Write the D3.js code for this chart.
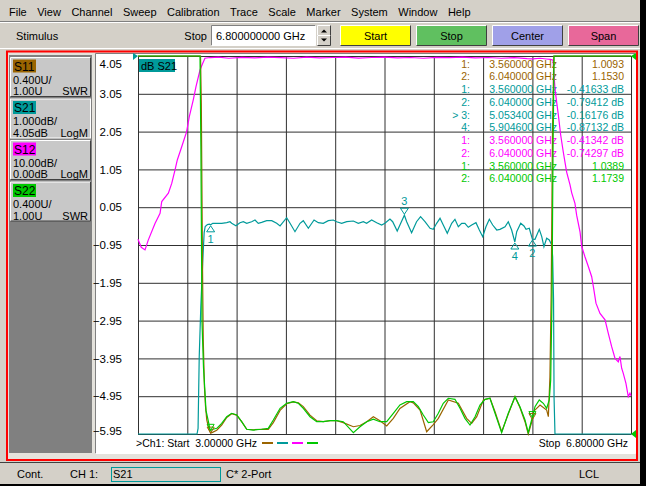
<!DOCTYPE html>
<html>
<head>
<meta charset="utf-8">
<script src="https://cdn.jsdelivr.net/npm/d3@7"></script>
<style>
  body { margin: 0; background: #d4d0c8; overflow: hidden; }
  svg { display: block; font-family: "Liberation Sans", Arial, sans-serif; font-size: 11px; }
</style>
</head>
<body>
<div id="chart"></div>
<script>
// ---- data ----
const menuItems = ["File", "View", "Channel", "Sweep", "Calibration", "Trace", "Scale", "Marker", "System", "Window", "Help"];
const toolButtons = ["Start", "Stop", "Center", "Span"];
const toolColors = ["#ffff00", "#60c060", "#a0a0e8", "#e8689a"];

const traceIds = ["S11", "S21", "S12", "S22"];
const traceColors = { S11: "#9a6400", S21: "#009a9a", S12: "#ff00ff", S22: "#00c800" };
const scaleText = ["0.400U/", "1.000dB/", "10.00dB/", "0.400U/"];
const refText = ["1.00U", "4.05dB", "0.00dB", "1.00U"];
const formatText = ["SWR", "LogM", "LogM", "SWR"];

const freqTicks = [3.0, 3.38, 3.76, 4.14, 4.52, 4.9, 5.28, 5.66, 6.04, 6.42, 6.8];
const s21Ticks = [4.05, 3.05, 2.05, 1.05, 0.05, -0.95, -1.95, -2.95, -3.95, -4.95, -5.95];

// readout table
const readTrace = ["S11", "S11", "S21", "S21", "S21", "S21", "S12", "S12", "S22", "S22"];
const readLabel = ["1:", "2:", "1:", "2:", "> 3:", "4:", "1:", "2:", "1:", "2:"];
const readFreq = ["3.560000 GHz", "6.040000 GHz", "3.560000 GHz", "6.040000 GHz", "5.053400 GHz",
  "5.904600 GHz", "3.560000 GHz", "6.040000 GHz", "3.560000 GHz", "6.040000 GHz"];
const readValue = ["1.0093", "1.1530", "-0.41633 dB", "-0.79412 dB", "-0.16176 dB", "-0.87132 dB",
  "-0.41342 dB", "-0.74297 dB", "1.0389", "1.1739"];

// markers
const s21MarkerNum = [1, 2, 3, 4];
const s21MarkerFreq = [3.56, 6.04, 5.0534, 5.9046];
const s21MarkerDb = [-0.41633, -0.79412, -0.16176, -0.87132];
const activeMarker = 3;
const swrMarkerFreq = [3.56, 6.04];
const s11MarkerSwr = [1.0093, 1.153];
const s22MarkerSwr = [1.0389, 1.1739];

// traces: [GHz, value]
const s21Trace = [[3.00, -60], [3.20, -58], [3.40, -45], [3.455, -20], [3.463, -5.8], [3.472, -3.9],
  [3.484, -2.6], [3.495, -1.7], [3.503, -1.1], [3.510, -0.62], [3.518, -0.46], [3.535, -0.41],
  [3.55, -0.40], [3.56, -0.416], [3.576, -0.376], [3.607, -0.376], [3.645, -0.376], [3.684, -0.36],
  [3.709, -0.334], [3.722, -0.376], [3.755, -0.439], [3.786, -0.36], [3.812, -0.334], [3.838, -0.376],
  [3.876, -0.334], [3.902, -0.289], [3.927, -0.376], [3.953, -0.35], [3.992, -0.307], [4.031, -0.307],
  [4.069, -0.376], [4.095, -0.447], [4.146, -0.228], [4.172, -0.376], [4.21, -0.598], [4.249, -0.376],
  [4.274, -0.307], [4.313, -0.508], [4.357, -0.289], [4.39, -0.36], [4.428, -0.376], [4.467, -0.307],
  [4.505, -0.289], [4.531, -0.334], [4.57, -0.376], [4.609, -0.334], [4.66, -0.315], [4.698, -0.376],
  [4.737, -0.334], [4.762, -0.376], [4.801, -0.289], [4.84, -0.36], [4.878, -0.421], [4.903, -0.376],
  [4.942, -0.262], [4.963, -0.334], [4.998, -0.58], [5.025, -0.376], [5.0534, -0.162], [5.071, -0.334],
  [5.109, -0.625], [5.147, -0.334], [5.178, -0.201], [5.212, -0.334], [5.251, -0.508], [5.276, -0.535],
  [5.302, -0.376], [5.328, -0.244], [5.353, -0.421], [5.384, -0.64], [5.418, -0.376], [5.443, -0.27],
  [5.469, -0.466], [5.495, -0.376], [5.52, -0.376], [5.546, -0.482], [5.572, -0.421], [5.605, -0.36],
  [5.631, -0.553], [5.657, -0.73], [5.682, -0.466], [5.708, -0.27], [5.734, -0.421], [5.765, -0.553],
  [5.79, -0.535], [5.829, -0.466], [5.854, -0.334], [5.88, -0.553], [5.9046, -0.871], [5.919, -0.598],
  [5.95, -0.376], [5.975, -0.447], [5.991, -0.535], [6.016, -0.508], [6.04, -0.794], [6.06, -0.799],
  [6.093, -0.535], [6.112, -0.73], [6.129, -0.995], [6.15, -0.772], [6.17, -0.817], [6.189, -0.95],
  [6.196, -1.26], [6.203, -2.4], [6.207, -5.0], [6.214, -15], [6.30, -40], [6.50, -55], [6.80, -60]];

const s12Trace = [[3.0, -48.5], [3.025, -50.6], [3.054, -51.3], [3.079, -48.7], [3.131, -44.3], [3.17, -41.6],
  [3.183, -38.5], [3.234, -36.3], [3.26, -33.7], [3.285, -30.2], [3.303, -27.5], [3.337, -24.0],
  [3.375, -20.0], [3.395, -16.1], [3.426, -11.6], [3.447, -8.1], [3.478, -3.7], [3.499, -1.9],
  [3.516, -0.6], [3.555, -0.4], [3.56, -0.413], [3.62, -0.3], [3.7, -0.6], [3.8, -0.35], [3.9, -0.5],
  [4.0, -0.3], [4.1, -0.45], [4.2, -0.6], [4.3, -0.3], [4.4, -0.5], [4.5, -0.4], [4.6, -0.3],
  [4.7, -0.55], [4.8, -0.4], [4.9, -0.3], [5.0, -0.5], [5.1, -0.4], [5.2, -0.6], [5.3, -0.35],
  [5.4, -0.45], [5.5, -0.3], [5.6, -0.5], [5.7, -0.4], [5.8, -0.6], [5.9, -0.45], [6.0, -0.7],
  [6.04, -0.743], [6.1, -0.6], [6.15, -0.8], [6.18, -0.9], [6.199, -1.1], [6.214, -8.7], [6.227, -12.2],
  [6.24, -15.6], [6.258, -20.9], [6.278, -25.4], [6.304, -30.7], [6.33, -34.1], [6.343, -36.2],
  [6.368, -39.0], [6.381, -42.1], [6.407, -46.5], [6.42, -50.4], [6.445, -53.1], [6.471, -55.7],
  [6.497, -58.4], [6.51, -61.0], [6.53, -65.4], [6.561, -68.1], [6.6, -69.8], [6.625, -73.4],
  [6.651, -76.9], [6.677, -80.0], [6.702, -80.9], [6.715, -79.5], [6.728, -82.6], [6.74, -83.9],
  [6.761, -86.6], [6.779, -90.1], [6.792, -89.2], [6.8, -89.9]];

const s11Trace = [[3.0, 40], [3.3, 35], [3.47, 20], [3.482, 6], [3.488, 4.5], [3.497, 2.8], [3.503, 2.0],
  [3.512, 1.5], [3.52, 1.3], [3.53, 1.15], [3.545, 1.06], [3.56, 1.0093], [3.578, 1.02], [3.607, 1.04],
  [3.645, 1.095], [3.684, 1.175], [3.722, 1.215], [3.761, 1.2], [3.799, 1.13], [3.838, 1.05],
  [3.888, 1.045], [3.953, 1.05], [4.004, 1.05], [4.043, 1.12], [4.095, 1.25], [4.146, 1.32],
  [4.197, 1.34], [4.236, 1.33], [4.274, 1.29], [4.326, 1.2], [4.377, 1.14], [4.428, 1.13], [4.48, 1.14],
  [4.532, 1.14], [4.582, 1.12], [4.66, 1.077], [4.711, 1.09], [4.763, 1.13], [4.814, 1.183],
  [4.865, 1.14], [4.917, 1.085], [4.968, 1.166], [5.019, 1.27], [5.096, 1.342], [5.122, 1.33],
  [5.174, 1.254], [5.225, 1.024], [5.276, 1.1], [5.315, 1.166], [5.392, 1.36], [5.469, 1.325],
  [5.533, 1.166], [5.572, 1.113], [5.611, 1.183], [5.662, 1.36], [5.713, 1.378], [5.752, 1.236],
  [5.803, 1.024], [5.854, 1.21], [5.906, 1.395], [5.944, 1.28], [5.983, 1.13], [6.008, 1.0],
  [6.04, 1.153], [6.047, 1.236], [6.099, 1.307], [6.15, 1.254], [6.163, 1.183], [6.175, 1.6],
  [6.185, 2.5], [6.195, 4.2], [6.205, 8], [6.3, 30], [6.8, 40]];

const s22Trace = [[3.0, 40], [3.3, 35], [3.47, 20], [3.478, 5.5], [3.485, 4.0], [3.493, 2.2], [3.505, 1.7],
  [3.516, 1.45], [3.524, 1.25], [3.54, 1.15], [3.556, 1.04], [3.56, 1.0389], [3.578, 1.05], [3.607, 1.06],
  [3.645, 1.113], [3.684, 1.183], [3.722, 1.219], [3.761, 1.201], [3.799, 1.13], [3.838, 1.05],
  [3.888, 1.042], [3.953, 1.05], [4.004, 1.06], [4.043, 1.148], [4.095, 1.272], [4.146, 1.325],
  [4.197, 1.342], [4.236, 1.325], [4.274, 1.272], [4.326, 1.183], [4.377, 1.13], [4.428, 1.13],
  [4.48, 1.141], [4.532, 1.141], [4.582, 1.13], [4.66, 1.014], [4.711, 1.077], [4.763, 1.13],
  [4.814, 1.156], [4.865, 1.13], [4.917, 1.13], [4.968, 1.219], [5.019, 1.307], [5.071, 1.342],
  [5.122, 1.342], [5.161, 1.289], [5.199, 1.201], [5.238, 1.12], [5.276, 1.13], [5.315, 1.219],
  [5.353, 1.325], [5.392, 1.378], [5.443, 1.367], [5.482, 1.272], [5.52, 1.166], [5.559, 1.095],
  [5.598, 1.183], [5.636, 1.307], [5.675, 1.367], [5.713, 1.378], [5.752, 1.219], [5.803, 1.014],
  [5.854, 1.219], [5.906, 1.395], [5.944, 1.289], [5.983, 1.148], [6.008, 1.014], [6.034, 1.148],
  [6.04, 1.174], [6.06, 1.289], [6.093, 1.36], [6.124, 1.325], [6.15, 1.272], [6.17, 1.36],
  [6.181, 1.571], [6.191, 2.418], [6.199, 4.0], [6.207, 5.5], [6.3, 30], [6.8, 40]];

// ---- drawing ----
const W = 646, H = 486;
const svg = d3.select("#chart").append("svg")
  .attr("width", W).attr("height", H)
  .attr("viewBox", `0 0 ${W} ${H}`);

svg.append("rect").attr("width", W).attr("height", H).attr("fill", "#d4d0c8");

function bevel(g, x, y, w, h, light, dark) {
  g.append("path").attr("d", `M${x},${y + h}V${y}H${x + w}`)
    .attr("fill", "none").attr("stroke", light);
  g.append("path").attr("d", `M${x},${y + h}H${x + w}V${y}`)
    .attr("fill", "none").attr("stroke", dark);
}

// menu bar
const menu = svg.append("g");
let mx = 9;
menuItems.forEach((name) => {
  const t = menu.append("text").attr("x", mx).attr("y", 16).text(name);
  mx += t.node().getComputedTextLength() + 10.5;
});
svg.append("line").attr("x1", 0).attr("x2", W).attr("y1", 21.5).attr("y2", 21.5).attr("stroke", "#808080");
svg.append("line").attr("x1", 0).attr("x2", W).attr("y1", 22.5).attr("y2", 22.5).attr("stroke", "#ffffff");

// stimulus toolbar
const tool = svg.append("g");
tool.append("text").attr("x", 16).attr("y", 40).text("Stimulus");
tool.append("text").attr("x", 207).attr("y", 40).attr("text-anchor", "end").text("Stop");
tool.append("rect").attr("x", 211.5).attr("y", 25.5).attr("width", 104).attr("height", 20).attr("fill", "#ffffff");
bevel(tool, 211.5, 25.5, 104, 20, "#808080", "#ffffff");
tool.append("text").attr("x", 216).attr("y", 40).text("6.800000000 GHz");
[0, 1].forEach((i) => {
  const sy = 25.5 + i * 10;
  tool.append("rect").attr("x", 317.5).attr("y", sy).attr("width", 13).attr("height", 10).attr("fill", "#d4d0c8");
  bevel(tool, 317.5, sy, 13, 10, "#ffffff", "#404040");
  const cy = sy + 5;
  tool.append("path")
    .attr("d", i === 0 ? `M321,${cy + 2}L324,${cy - 1}L327,${cy + 2}Z` : `M321,${cy - 2}L324,${cy + 1}L327,${cy - 2}Z`)
    .attr("fill", "#000");
});
toolButtons.forEach((name, i) => {
  const bx = 340.5 + i * 76;
  tool.append("rect").attr("x", bx).attr("y", 25.5).attr("width", 70).attr("height", 20).attr("fill", toolColors[i]);
  bevel(tool, bx, 25.5, 70, 20, "#ffffff", "#404040");
  tool.append("text").attr("x", bx + 35).attr("y", 40).attr("text-anchor", "middle").text(name);
});
svg.append("line").attr("x1", 0).attr("x2", W).attr("y1", 48.5).attr("y2", 48.5).attr("stroke", "#ffffff");

// channel window frame
svg.append("rect").attr("x", 7).attr("y", 51.5).attr("width", 630).attr("height", 408.5)
  .attr("fill", "#e4e2dc").attr("stroke", "#ff0000").attr("stroke-width", 2);

// trace buttons panel
svg.append("rect").attr("x", 9).attr("y", 55).attr("width", 83).attr("height", 398).attr("fill", "#808080");
traceIds.forEach((id, i) => {
  const by = 57.5 + i * 41.5;
  const g = svg.append("g");
  g.append("rect").attr("x", 10.5).attr("y", by).attr("width", 80).attr("height", 39).attr("fill", "#c8c8c8");
  if (id === "S21") {
    g.append("rect").attr("x", 10.5).attr("y", by).attr("width", 80).attr("height", 39)
      .attr("fill", "none").attr("stroke", "#ffffff");
  } else {
    bevel(g, 10.5, by, 80, 39, "#ffffff", "#404040");
  }
  g.append("rect").attr("x", 13).attr("y", by + 2).attr("width", 23).attr("height", 13).attr("fill", traceColors[id]);
  g.append("text").attr("x", 14).attr("y", by + 13).attr("font-size", "12px").text(id);
  g.append("text").attr("x", 13).attr("y", by + 26).text(scaleText[i]);
  g.append("text").attr("x", 13).attr("y", by + 37.5).text(refText[i]);
  g.append("text").attr("x", 88).attr("y", by + 37.5).attr("text-anchor", "end").text(formatText[i]);
});

// plot area
svg.append("rect").attr("x", 96).attr("y", 54).attr("width", 539).attr("height", 399).attr("fill", "#ffffff");
bevel(svg, 95.5, 53.5, 540, 400, "#808080", "#ffffff");

const x = d3.scaleLinear().domain([3.0, 6.8]).range([138, 631]).clamp(true);
const yS21 = d3.scaleLinear().domain([-5.95, 4.05]).range([434, 56]).clamp(true);
const yS12 = d3.scaleLinear().domain([-100, 0]).range([434, 56]).clamp(true);
const ySwr = d3.scaleLinear().domain([1, 5]).range([434, 56]).clamp(true);

const plot = svg.append("g");
const gridColor = "#303030";

const xGrid = plot.append("g")
  .attr("transform", "translate(0,434)")
  .call(d3.axisBottom(x).tickValues(freqTicks).tickSize(-378).tickSizeOuter(0).tickFormat(""));
xGrid.selectAll("line, path").attr("stroke", gridColor);

const yAxis = plot.append("g")
  .attr("transform", "translate(138,0)")
  .call(d3.axisLeft(yS21).tickValues(s21Ticks).tickSize(-493).tickSizeOuter(0)
    .tickPadding(16).tickFormat(d3.format(".2f")));
yAxis.attr("font-family", null).attr("font-size", null);
yAxis.selectAll("line, path").attr("stroke", gridColor);
yAxis.selectAll("text").attr("fill", "#000").attr("font-size", "11.5px");
yAxis.selectAll(".tick").filter((d) => d === s21Ticks[0]).select("text").attr("dy", "1.0em");
yAxis.selectAll(".tick").filter((d) => d === s21Ticks[s21Ticks.length - 1]).select("text").attr("dy", "0.0em");

// trace title
plot.append("rect").attr("x", 139).attr("y", 59).attr("width", 36).attr("height", 13).attr("fill", traceColors.S21);
plot.append("text").attr("x", 141).attr("y", 70).text("dB S21");

// marker readout
const readout = plot.append("g").attr("font-size", "10.5px");
readTrace.forEach((id, i) => {
  const ry = 67.5 + i * 12.75;
  const c = traceColors[id];
  readout.append("text").attr("x", 470).attr("y", ry).attr("text-anchor", "end").attr("fill", c).text(readLabel[i]);
  readout.append("text").attr("x", 557).attr("y", ry).attr("text-anchor", "end").attr("fill", c).text(readFreq[i]);
  readout.append("text").attr("x", 624).attr("y", ry).attr("text-anchor", "end").attr("fill", c).text(readValue[i]);
});

// traces
const traces = [
  { data: s12Trace, y: yS12, color: traceColors.S12 },
  { data: s21Trace, y: yS21, color: traceColors.S21 },
  { data: s11Trace, y: ySwr, color: traceColors.S11 },
  { data: s22Trace, y: ySwr, color: traceColors.S22 },
];
traces.forEach((t) => {
  const line = d3.line().x((d) => x(d[0])).y((d) => t.y(d[1]));
  plot.append("path").attr("d", line(t.data))
    .attr("fill", "none").attr("stroke", t.color).attr("stroke-width", 1.2);
});

// S21 markers
s21MarkerNum.forEach((n, i) => {
  const px = x(s21MarkerFreq[i]);
  const py = yS21(s21MarkerDb[i]);
  const c = traceColors.S21;
  if (n === activeMarker) {
    plot.append("path").attr("d", `M${px},${py - 1}L${px - 4},${py - 7}L${px + 4},${py - 7}Z`)
      .attr("fill", "none").attr("stroke", c);
    plot.append("text").attr("x", px).attr("y", py - 10).attr("text-anchor", "middle").attr("fill", c).text(n);
  } else {
    plot.append("path").attr("d", `M${px},${py + 1}L${px - 4},${py + 7}L${px + 4},${py + 7}Z`)
      .attr("fill", "none").attr("stroke", c);
    plot.append("text").attr("x", px).attr("y", py + 18).attr("text-anchor", "middle").attr("fill", c).text(n);
  }
});

// S11 / S22 markers
[[s11MarkerSwr, traceColors.S11], [s22MarkerSwr, traceColors.S22]].forEach(([vals, c]) => {
  swrMarkerFreq.forEach((f, i) => {
    const px = x(f), py = ySwr(vals[i]);
    plot.append("path").attr("d", `M${px},${py}L${px - 3.5},${py - 6}L${px + 3.5},${py - 6}Z`)
      .attr("fill", "none").attr("stroke", c);
  });
});

// reference position pointers
plot.append("path").attr("d", "M138,56L133,53L133,60Z").attr("fill", traceColors.S21);
plot.append("path").attr("d", "M631,434L636,430L636,438Z").attr("fill", traceColors.S22);
plot.append("path").attr("d", "M631,56L636,53L636,60Z").attr("fill", traceColors.S22);

// start / stop annotations
plot.append("text").attr("x", 136).attr("y", 447).attr("font-size", "10.5px").style("white-space", "pre")
  .text(">Ch1: Start  3.00000 GHz");
plot.append("text").attr("x", 628).attr("y", 447).attr("font-size", "10.5px").attr("text-anchor", "end")
  .style("white-space", "pre").text("Stop  6.80000 GHz");
traceIds.forEach((id, i) => {
  plot.append("line").attr("x1", 262 + i * 15).attr("x2", 273 + i * 15)
    .attr("y1", 443).attr("y2", 443).attr("stroke", traceColors[id]).attr("stroke-width", 2);
});

// status bar
svg.append("line").attr("x1", 0).attr("x2", W).attr("y1", 462.5).attr("y2", 462.5).attr("stroke", "#404040");
const status = svg.append("g");
status.append("text").attr("x", 17).attr("y", 478).text("Cont.");
status.append("text").attr("x", 70).attr("y", 478).text("CH 1:");
status.append("rect").attr("x", 111.5).attr("y", 467.5).attr("width", 109).attr("height", 14)
  .attr("fill", "none").attr("stroke", traceColors.S21);
status.append("text").attr("x", 113).attr("y", 478).text("S21");
status.append("text").attr("x", 226).attr("y", 478).text("C* 2-Port");
status.append("text").attr("x", 579).attr("y", 478).text("LCL");

// screen edges
svg.append("rect").attr("x", 640).attr("y", 0).attr("width", 6).attr("height", H).attr("fill", "#000");
svg.append("rect").attr("x", 0).attr("y", 484).attr("width", W).attr("height", 2).attr("fill", "#000");
</script>
</body>
</html>
